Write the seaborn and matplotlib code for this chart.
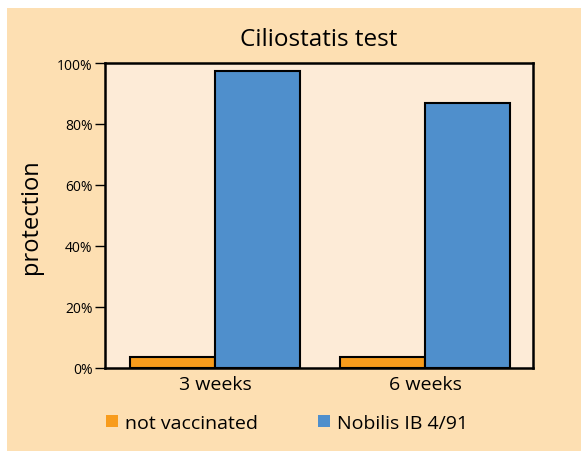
# Ciliostatis test - protection after vaccination
import pandas as pd
import matplotlib.pyplot as plt
import matplotlib.patches as mpatches
import seaborn as sns

weeks = ["3 weeks", "6 weeks"]
not_vaccinated = [3.5, 3.5]
nobilis = [97.3, 86.8]
groups = ["not vaccinated", "Nobilis IB 4/91"]
colors = ["#f89c1c", "#4f8fcc"]

df = pd.DataFrame({
    "week": weeks * 2,
    "value": not_vaccinated + nobilis,
    "group": [groups[0]] * 2 + [groups[1]] * 2,
})

sns.set_style("white")
plt.rcParams["font.family"] = ["Open Sans", "DejaVu Sans"]
plt.rcParams["text.color"] = "black"
plt.rcParams["axes.labelcolor"] = "black"
plt.rcParams["xtick.color"] = "black"
plt.rcParams["ytick.color"] = "black"

fig = plt.figure(figsize=(5.81, 4.52), dpi=100, facecolor="white")
# orange backdrop, leaving the thin white strip at top and left
fig.patches.append(mpatches.Rectangle((7 / 581, 0), 1, 1 - 9 / 452,
                                      transform=fig.transFigure,
                                      facecolor="#fddfb2", edgecolor="none",
                                      zorder=-10))

ax = fig.add_axes([105 / 581, 1 - 369 / 452, 428 / 581, 305 / 452])
ax.set_facecolor("#fdebd7")

sns.barplot(data=df, x="week", y="value", hue="group", palette=colors,
            width=0.81, edgecolor="black", linewidth=1.5, saturation=1,
            legend=False, ax=ax)

ax.set_xlim(-0.524, 1.514)
ax.set_ylim(0, 100)
ax.set_yticks([0, 20, 40, 60, 80, 100])
ax.set_yticklabels([f"{v}%" for v in [0, 20, 40, 60, 80, 100]], fontsize=10)
ax.tick_params(axis="y", direction="out", length=7, width=1, left=True, pad=2)
ax.tick_params(axis="x", length=0, labelsize=14, pad=5)
ax.set_xlabel("")
ax.set_ylabel("protection", fontsize=17, labelpad=10)
ax.set_title("Ciliostatis test", fontsize=17.5, pad=13)

for s in ax.spines.values():
    s.set_color("black")
    s.set_linewidth(1.8)

handles = [mpatches.Patch(facecolor=c, edgecolor="none") for c in colors]
fig.legend(handles, groups, loc="center left", bbox_to_anchor=(88 / 581, 1 - 424 / 452),
           ncol=2, frameon=False, fontsize=14, handlelength=0.62, handleheight=0.57,
           handletextpad=0.36, columnspacing=3.1)

fig.savefig("out.png", dpi=100)
